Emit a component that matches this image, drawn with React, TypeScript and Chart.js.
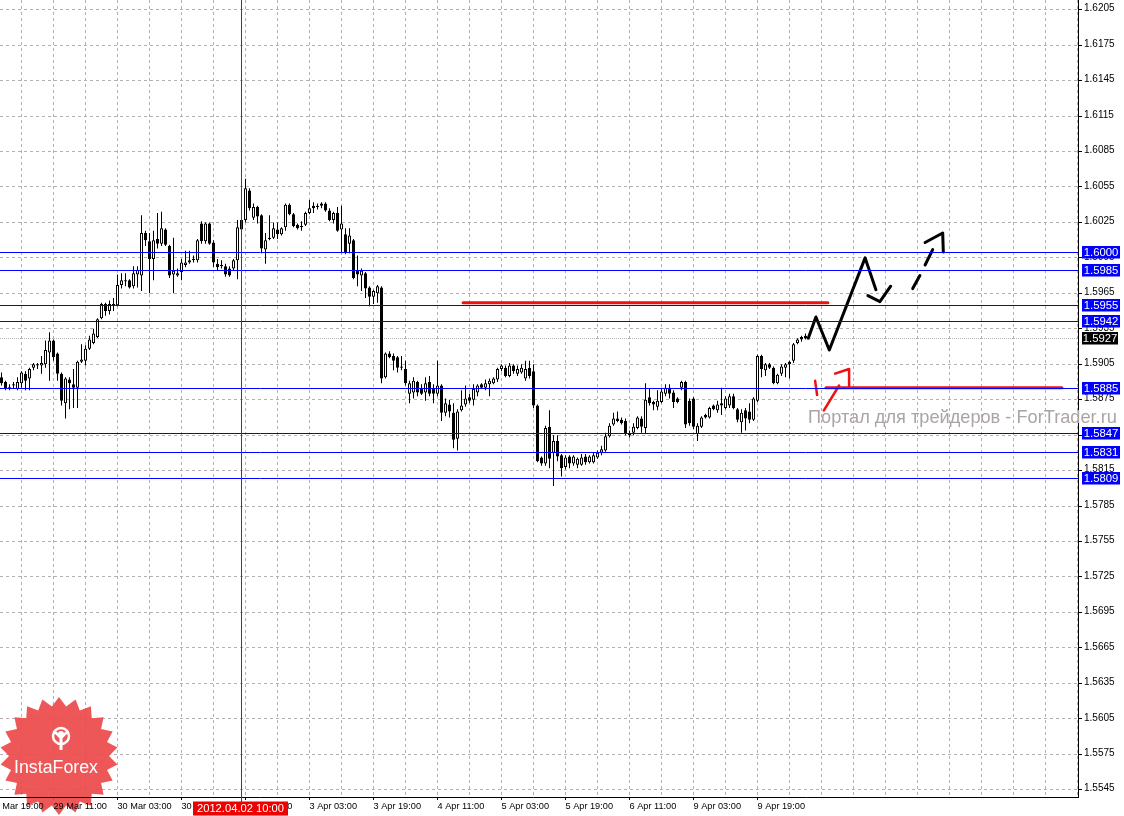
import React, { useEffect, useRef } from "react";
import { Chart, registerables } from "chart.js";

Chart.register(...registerables);

// ---------------- DATA (GBPUSD H1, 28 Mar 2012 22:00 .. 10 Apr 2012) ----------------
const openPrices = [
  1.5894, 1.5890, 1.5885, 1.5887, 1.5884, 1.5889, 1.5897, 1.5893, 1.5902, 1.5904,
  1.5904, 1.5905, 1.5915, 1.5925, 1.5914, 1.5897, 1.5872, 1.5892, 1.5888, 1.5885,
  1.5907, 1.5908, 1.5918, 1.5923, 1.5928, 1.5944, 1.5956, 1.5950, 1.5955, 1.5955,
  1.5972, 1.5975, 1.5976, 1.5971, 1.5981, 1.5980, 1.6016, 1.6009, 1.5994, 1.6011,
  1.6007, 1.6019, 1.6005, 1.5981, 1.5980, 1.5983, 1.5989, 1.5991, 1.5994, 1.5993,
  1.6024, 1.6009, 1.6024, 1.6008, 1.5990, 1.5989, 1.5988, 1.5986, 1.5986, 1.5993,
  1.6027, 1.6027, 1.6052, 1.6029, 1.6038, 1.6031, 1.6002, 1.6012, 1.6012, 1.6019,
  1.6015, 1.6021, 1.6040, 1.6032, 1.6023, 1.6022, 1.6023, 1.6033, 1.6039, 1.6038,
  1.6041, 1.6041, 1.6035, 1.6027, 1.6033, 1.6019, 1.6015, 1.6007, 1.6010, 1.5984,
  1.5980, 1.5982, 1.5970, 1.5962, 1.5965, 1.5970, 1.5894, 1.5914, 1.5912, 1.5911,
  1.5902, 1.5901, 1.5880, 1.5881, 1.5890, 1.5885, 1.5881, 1.5890, 1.5884, 1.5880,
  1.5887, 1.5864, 1.5871, 1.5864, 1.5842, 1.5866, 1.5871, 1.5877, 1.5875, 1.5881,
  1.5888, 1.5885, 1.5888, 1.5889, 1.5892, 1.5901, 1.5902, 1.5895, 1.5904, 1.5897,
  1.5898, 1.5893, 1.5902, 1.5899, 1.5870, 1.5826, 1.5821, 1.5852, 1.5830, 1.5840,
  1.5828, 1.5818, 1.5827, 1.5821, 1.5820, 1.5820, 1.5827, 1.5822, 1.5822, 1.5826,
  1.5830, 1.5832, 1.5844, 1.5854, 1.5859, 1.5858, 1.5857, 1.5846, 1.5847, 1.5851,
  1.5859, 1.5851, 1.5877, 1.5873, 1.5869, 1.5873, 1.5880, 1.5885, 1.5881, 1.5876,
  1.5885, 1.5890, 1.5874, 1.5876, 1.5846, 1.5852, 1.5862, 1.5860, 1.5870, 1.5866,
  1.5872, 1.5868, 1.5870, 1.5878, 1.5867, 1.5856, 1.5866, 1.5865, 1.5858, 1.5874,
  1.5912, 1.5900, 1.5905, 1.5902, 1.5889, 1.5897, 1.5902, 1.5907, 1.5908, 1.5923,
  1.5928, 1.5929,
];
const highPrices = [
  1.5898, 1.5891, 1.5888, 1.5890, 1.5894, 1.5899, 1.5899, 1.5902, 1.5906, 1.5906,
  1.5912, 1.5925, 1.5932, 1.5926, 1.5915, 1.5898, 1.5894, 1.5894, 1.5901, 1.5908,
  1.5922, 1.5921, 1.5929, 1.5935, 1.5944, 1.5957, 1.5957, 1.5959, 1.5961, 1.5981,
  1.5982, 1.5982, 1.5977, 1.5988, 1.5988, 1.6031, 1.6018, 1.6016, 1.6018, 1.6033,
  1.6034, 1.6020, 1.6006, 1.6012, 1.5986, 1.5994, 1.6001, 1.6001, 1.5997, 1.6011,
  1.6026, 1.6025, 1.6025, 1.6010, 1.5994, 1.5993, 1.5990, 1.5988, 1.5994, 1.6027,
  1.6029, 1.6062, 1.6054, 1.6041, 1.6039, 1.6032, 1.6016, 1.6031, 1.6025, 1.6025,
  1.6021, 1.6041, 1.6041, 1.6033, 1.6024, 1.6026, 1.6034, 1.6044, 1.6042, 1.6041,
  1.6042, 1.6042, 1.6037, 1.6034, 1.6038, 1.6039, 1.6020, 1.6020, 1.6011, 1.5997,
  1.5986, 1.5983, 1.5971, 1.5968, 1.5972, 1.5971, 1.5915, 1.5916, 1.5914, 1.5912,
  1.5912, 1.5908, 1.5891, 1.5894, 1.5891, 1.5888, 1.5894, 1.5895, 1.5888, 1.5908,
  1.5888, 1.5876, 1.5875, 1.5872, 1.5867, 1.5883, 1.5887, 1.5880, 1.5888, 1.5888,
  1.5889, 1.5892, 1.5893, 1.5894, 1.5902, 1.5905, 1.5904, 1.5906, 1.5905, 1.5904,
  1.5905, 1.5908, 1.5908, 1.5905, 1.5871, 1.5827, 1.5853, 1.5866, 1.5845, 1.5845,
  1.5829, 1.5828, 1.5828, 1.5828, 1.5826, 1.5829, 1.5829, 1.5828, 1.5830, 1.5832,
  1.5836, 1.5847, 1.5855, 1.5864, 1.5865, 1.5860, 1.5859, 1.5849, 1.5855, 1.5861,
  1.5861, 1.5889, 1.5884, 1.5874, 1.5883, 1.5885, 1.5888, 1.5888, 1.5883, 1.5877,
  1.5891, 1.5891, 1.5876, 1.5877, 1.5855, 1.5861, 1.5863, 1.5869, 1.5871, 1.5874,
  1.5885, 1.5878, 1.5880, 1.5880, 1.5868, 1.5867, 1.5868, 1.5872, 1.5877, 1.5913,
  1.5913, 1.5906, 1.5906, 1.5903, 1.5897, 1.5905, 1.5906, 1.5908, 1.5923, 1.5927,
  1.5929, 1.5931,
];
const lowPrices = [
  1.5887, 1.5883, 1.5883, 1.5884, 1.5883, 1.5885, 1.5883, 1.5883, 1.5900, 1.5901,
  1.5897, 1.5902, 1.5891, 1.5908, 1.5891, 1.5870, 1.5859, 1.5867, 1.5868, 1.5868,
  1.5906, 1.5904, 1.5917, 1.5922, 1.5927, 1.5943, 1.5946, 1.5947, 1.5950, 1.5954,
  1.5969, 1.5971, 1.5969, 1.5969, 1.5970, 1.5967, 1.6005, 1.5965, 1.5976, 1.6003,
  1.6005, 1.6005, 1.5978, 1.5965, 1.5979, 1.5976, 1.5987, 1.5990, 1.5991, 1.5991,
  1.6007, 1.6007, 1.6006, 1.5987, 1.5984, 1.5986, 1.5979, 1.5979, 1.5984, 1.5977,
  1.6016, 1.6025, 1.6035, 1.6027, 1.6024, 1.5999, 1.5990, 1.6010, 1.6011, 1.6011,
  1.6014, 1.6018, 1.6031, 1.6021, 1.6019, 1.6018, 1.6022, 1.6032, 1.6033, 1.6036,
  1.6037, 1.6034, 1.6026, 1.6024, 1.6017, 1.5999, 1.5998, 1.5999, 1.5977, 1.5971,
  1.5967, 1.5961, 1.5954, 1.5956, 1.5957, 1.5889, 1.5893, 1.5910, 1.5900, 1.5898,
  1.5900, 1.5887, 1.5872, 1.5876, 1.5878, 1.5879, 1.5874, 1.5878, 1.5872, 1.5878,
  1.5857, 1.5861, 1.5860, 1.5834, 1.5832, 1.5865, 1.5869, 1.5872, 1.5870, 1.5878,
  1.5884, 1.5883, 1.5878, 1.5888, 1.5890, 1.5899, 1.5894, 1.5894, 1.5897, 1.5895,
  1.5897, 1.5891, 1.5893, 1.5868, 1.5822, 1.5819, 1.5819, 1.5817, 1.5802, 1.5823,
  1.5810, 1.5816, 1.5817, 1.5819, 1.5817, 1.5819, 1.5820, 1.5821, 1.5821, 1.5825,
  1.5828, 1.5831, 1.5843, 1.5853, 1.5856, 1.5854, 1.5845, 1.5843, 1.5845, 1.5850,
  1.5847, 1.5846, 1.5870, 1.5866, 1.5866, 1.5872, 1.5878, 1.5876, 1.5868, 1.5872,
  1.5883, 1.5851, 1.5853, 1.5850, 1.5840, 1.5851, 1.5859, 1.5859, 1.5866, 1.5864,
  1.5862, 1.5867, 1.5868, 1.5867, 1.5856, 1.5847, 1.5849, 1.5855, 1.5857, 1.5873,
  1.5894, 1.5895, 1.5901, 1.5888, 1.5888, 1.5895, 1.5894, 1.5893, 1.5906, 1.5922,
  1.5924, 1.5926,
];
const closePrices = [
  1.5889, 1.5884, 1.5886, 1.5888, 1.5890, 1.5898, 1.5891, 1.5901, 1.5905, 1.5905,
  1.5906, 1.5917, 1.5925, 1.5911, 1.5897, 1.5874, 1.5893, 1.5889, 1.5885, 1.5907,
  1.5909, 1.5918, 1.5926, 1.5931, 1.5943, 1.5956, 1.5950, 1.5956, 1.5956, 1.5972,
  1.5976, 1.5976, 1.5970, 1.5982, 1.5985, 1.6016, 1.6010, 1.5994, 1.6010, 1.6007,
  1.6020, 1.6006, 1.5980, 1.5984, 1.5982, 1.5991, 1.5991, 1.5993, 1.5993, 1.6010,
  1.6009, 1.6024, 1.6007, 1.5991, 1.5987, 1.5988, 1.5981, 1.5980, 1.5993, 1.6021,
  1.6019, 1.6054, 1.6037, 1.6038, 1.6030, 1.6003, 1.6010, 1.6011, 1.6020, 1.6015,
  1.6020, 1.6040, 1.6032, 1.6022, 1.6020, 1.6021, 1.6033, 1.6037, 1.6037, 1.6039,
  1.6039, 1.6035, 1.6027, 1.6033, 1.6018, 1.6024, 1.5999, 1.6014, 1.5978, 1.5981,
  1.5984, 1.5969, 1.5962, 1.5967, 1.5971, 1.5893, 1.5914, 1.5911, 1.5908, 1.5902,
  1.5903, 1.5889, 1.5889, 1.5891, 1.5881, 1.5880, 1.5889, 1.5880, 1.5880, 1.5887,
  1.5864, 1.5872, 1.5865, 1.5841, 1.5865, 1.5870, 1.5876, 1.5874, 1.5884, 1.5887,
  1.5885, 1.5889, 1.5891, 1.5893, 1.5901, 1.5904, 1.5895, 1.5904, 1.5899, 1.5901,
  1.5902, 1.5901, 1.5895, 1.5870, 1.5823, 1.5821, 1.5851, 1.5825, 1.5840, 1.5827,
  1.5817, 1.5826, 1.5821, 1.5827, 1.5825, 1.5826, 1.5822, 1.5827, 1.5828, 1.5830,
  1.5833, 1.5844, 1.5853, 1.5859, 1.5857, 1.5855, 1.5846, 1.5845, 1.5852, 1.5860,
  1.5852, 1.5875, 1.5872, 1.5871, 1.5874, 1.5882, 1.5885, 1.5880, 1.5873, 1.5873,
  1.5890, 1.5854, 1.5855, 1.5852, 1.5853, 1.5860, 1.5860, 1.5868, 1.5867, 1.5871,
  1.5870, 1.5876, 1.5878, 1.5868, 1.5858, 1.5864, 1.5859, 1.5858, 1.5876, 1.5912,
  1.5901, 1.5905, 1.5902, 1.5889, 1.5896, 1.5903, 1.5905, 1.5905, 1.5922, 1.5926,
  1.5926, 1.5927,
];

// time axis: one label every 16 hourly bars, first one at bar -3
const timeLabels = [
  "28 Mar 19:00", "29 Mar 11:00", "30 Mar 03:00", "30 Mar 19:00", "2 Apr 11:00",
  "3 Apr 03:00", "3 Apr 19:00", "4 Apr 11:00", "5 Apr 03:00", "5 Apr 19:00",
  "6 Apr 11:00", "9 Apr 03:00", "9 Apr 19:00",
];
const firstLabelBar = -3;
const barsPerLabel = 16;
const barsPerGrid = 8;

const priceTicks = [
  1.6205, 1.6175, 1.6145, 1.6115, 1.6085, 1.6055, 1.6025, 1.5995, 1.5965, 1.5935,
  1.5905, 1.5875, 1.5845, 1.5815, 1.5785, 1.5755, 1.5725, 1.5695, 1.5665, 1.5635,
  1.5605, 1.5575, 1.5545,
];
const priceMax = 1.62132;
const priceMin = 1.553881;

const levelLines = [1.6, 1.5985, 1.5955, 1.5942, 1.5885, 1.5847, 1.5831, 1.5809];
const bidPrice = 1.5927;
const markerBar = 60;
const markerLabel = "2012.04.02 10:00";

const redLevelA = [{ x: 115.4, y: 1.5957 }, { x: 206.6, y: 1.5957 }];
const redLevelB = [{ x: 206.1, y: 1.5885 }, { x: 265.1, y: 1.5885 }];
const forecastMain = [
  { x: 201.7, y: 1.5927 }, { x: 203.6, y: 1.5945 }, { x: 206.95, y: 1.5917 },
  { x: 215.9, y: 1.5995 }, { x: 218.6, y: 1.5968 },
];
const forecastPullback = [{ x: 216.6, y: 1.5963 }, { x: 219.6, y: 1.5958 }, { x: 222.3, y: 1.5971 }];
const forecastDash1 = [{ x: 227.8, y: 1.5969 }, { x: 229.6, y: 1.598 }];
const forecastDash2 = [{ x: 230.9, y: 1.5989 }, { x: 232.8, y: 1.6002 }];
const forecastArrow = [{ x: 230.9, y: 1.6008 }, { x: 235.3, y: 1.6016 }, { x: 235.45, y: 1.6 }];
const redStroke1 = [{ x: 203.4, y: 1.5891 }, { x: 203.9, y: 1.5879 }];
const redStroke2 = [{ x: 205.6, y: 1.5866 }, { x: 209.4, y: 1.5887 }];
const redStroke3 = [{ x: 208.4, y: 1.5897 }, { x: 211.9, y: 1.5901 }, { x: 211.9, y: 1.5886 }];

const watermarkText = "Портал для трейдеров - ForTrader.ru";
const logoText = "InstaForex";

// ---------------- STYLE ----------------
const FONT = '"Liberation Sans", Arial, sans-serif';
const SHIFT = 12; // canvas starts 12px left of the page edge
const GRID = "#b6aeb6";
const BLUE = "#0000ff";
const RED = "#ee1111";

function isLabelBar(v: number) {
  const k = (v - firstLabelBar) / barsPerLabel;
  return Number.isInteger(k) && k >= 0 && k < timeLabels.length;
}

function fitSize(ctx: any, text: string, width: number, weight = "") {
  ctx.font = `${weight} 20px ${FONT}`;
  return (20 * width) / ctx.measureText(text).width;
}

const overlay = {
  id: "overlay",
  beforeDatasetsDraw(chart: any) {
    const { ctx, chartArea: a, scales } = chart;
    const y = scales.y;
    ctx.save();
    // bid line
    const by = Math.round(y.getPixelForValue(bidPrice)) + 0.5;
    ctx.strokeStyle = "#b4b4b4";
    ctx.lineWidth = 1;
    ctx.setLineDash([1, 1]);
    ctx.beginPath();
    ctx.moveTo(a.left, by);
    ctx.lineTo(a.right, by);
    ctx.stroke();
    ctx.setLineDash([]);

    // watermark
    const ws = fitSize(ctx, watermarkText, 309);
    ctx.font = `${ws}px ${FONT}`;
    ctx.fillStyle = "rgb(172,164,164)";
    ctx.textAlign = "left";
    ctx.textBaseline = "middle";
    ctx.fillText(watermarkText, SHIFT + 808, 418);

    // logo badge
    const cx = SHIFT + 59;
    const cy = 756;
    const n = 22;
    ctx.beginPath();
    for (let k = 0; k < 2 * n; k++) {
      const r = k % 2 === 0 ? 59 : 50;
      const ang = (k * Math.PI) / n - Math.PI / 2;
      const px = cx + r * Math.cos(ang);
      const py = cy + r * Math.sin(ang);
      if (k === 0) ctx.moveTo(px, py);
      else ctx.lineTo(px, py);
    }
    ctx.closePath();
    ctx.fillStyle = "rgba(236,74,74,0.93)";
    ctx.fill();
    // icon
    ctx.fillStyle = "#fff";
    ctx.strokeStyle = "#fff";
    ctx.lineWidth = 2.5;
    ctx.beginPath();
    ctx.arc(cx + 2, cy - 20, 8, 0, Math.PI * 2);
    ctx.stroke();
    ctx.beginPath();
    ctx.arc(cx + 2, cy - 22, 3, 0, Math.PI * 2);
    ctx.fill();
    ctx.fillRect(cx + 0.5, cy - 18, 3, 12);
    ctx.beginPath();
    ctx.moveTo(cx - 5, cy - 25);
    ctx.lineTo(cx + 2, cy - 18);
    ctx.lineTo(cx + 9, cy - 25);
    ctx.stroke();
    const ls = fitSize(ctx, logoText, 84);
    ctx.font = `${ls}px ${FONT}`;
    ctx.textAlign = "center";
    ctx.fillText(logoText, cx - 3, cy + 12);
    ctx.restore();
  },
  afterDatasetsDraw(chart: any) {
    const { ctx, chartArea: a, scales } = chart;
    const y = scales.y;
    ctx.save();
    ctx.strokeStyle = BLUE;
    ctx.lineWidth = 1;
    for (const v of levelLines) {
      const py = Math.round(y.getPixelForValue(v)) + 0.5;
      ctx.beginPath();
      ctx.moveTo(a.left, py);
      ctx.lineTo(a.right, py);
      ctx.stroke();
    }
    ctx.restore();
  },
  afterDraw(chart: any) {
    const { ctx, chartArea: a, scales } = chart;
    const y = scales.y;
    const x = scales.x;
    ctx.save();
    // marker line
    const mx = Math.round(x.getPixelForValue(markerBar) - 0.5) + 0.5;
    ctx.strokeStyle = "#e00000";
    ctx.lineWidth = 1;
    ctx.beginPath();
    ctx.moveTo(mx, a.top);
    ctx.lineTo(mx, 802);
    ctx.stroke();
    // marker date box
    ctx.fillStyle = "#ee0000";
    ctx.fillRect(mx - 48.5, 801.5, 95, 14);
    ctx.fillStyle = "#fff";
    ctx.font = `11.2px ${FONT}`;
    ctx.textAlign = "center";
    ctx.textBaseline = "middle";
    ctx.fillText(markerLabel, mx - 1, 809);

    // price boxes on the axis
    ctx.font = `11.3px ${FONT}`;
    const bx = a.right + 4;
    const drawBox = (v: number, bg: string, w: number) => {
      const py = Math.round(y.getPixelForValue(v));
      ctx.fillStyle = bg;
      ctx.fillRect(bx, py - 6, w, 12.5);
      ctx.fillStyle = "#fff";
      ctx.fillText(v.toFixed(4), bx + w / 2, py + 0.5);
    };
    for (const v of levelLines) drawBox(v, BLUE, 38);
    drawBox(bidPrice, "#000", 36);
    ctx.restore();
  },
};

export default function App() {
  const ref = useRef<HTMLCanvasElement>(null);
  useEffect(() => {
    const canvas = ref.current!;
    const bars = openPrices.map((_, i) => i);
    const bodies = bars.map((i) => ({ x: i, y: [openPrices[i], closePrices[i]] }));
    const wicks = bars.map((i) => ({ x: i, y: [lowPrices[i], highPrices[i]] }));
    const bodyFill = bars.map((i) => (closePrices[i] >= openPrices[i] ? "#ffffff" : "#000000"));

    const lineDs = (data: any[], color: string, width: number) => ({
      type: "line",
      data,
      borderColor: color,
      borderWidth: width,
      pointRadius: 0,
      tension: 0,
      fill: false,
      order: 0,
      borderJoinStyle: "round",
      borderCapStyle: "round",
    });

    const gridTicks: number[] = [];
    for (let v = firstLabelBar; v <= 269; v += barsPerGrid) gridTicks.push(v);

    const chart = new Chart(canvas, {
      type: "bar",
      data: {
        datasets: [
          lineDs(forecastMain, "#000", 3),
          lineDs(forecastPullback, "#000", 3),
          lineDs(forecastDash1, "#000", 3),
          lineDs(forecastDash2, "#000", 3),
          lineDs(forecastArrow, "#000", 3),
          lineDs(redLevelA, RED, 3),
          lineDs(redLevelB, RED, 3),
          lineDs(redStroke1, RED, 2.5),
          lineDs(redStroke2, RED, 2.5),
          lineDs(redStroke3, RED, 2.5),
          {
            type: "bar",
            data: bodies,
            backgroundColor: bodyFill,
            borderColor: "#000",
            borderWidth: 1,
            borderSkipped: false,
            barThickness: 3,
            grouped: false,
            minBarLength: 1,
            inflateAmount: 0,
            order: 5,
          },
          {
            type: "bar",
            data: wicks,
            backgroundColor: "#000",
            borderWidth: 0,
            barThickness: 1,
            grouped: false,
            minBarLength: 1,
            inflateAmount: 0,
            order: 6,
          },
        ] as any,
      },
      options: {
        responsive: false,
        animation: false,
        devicePixelRatio: 1,
        events: [],
        layout: { padding: 0 },
        plugins: { legend: { display: false }, tooltip: { enabled: false }, title: { display: false } },
        scales: {
          x: {
            type: "linear",
            offset: false,
            min: -3.375,
            max: 269.125,
            afterBuildTicks: (s: any) => {
              s.ticks = gridTicks.map((v) => ({ value: v }));
            },
            afterFit: (s: any) => {
              s.height = 19;
              s.paddingLeft = 0;
              s.paddingRight = 0;
              s.paddingTop = 0;
              s.paddingBottom = 0;
            },
            grid: {
              offset: false,
              color: GRID,
              tickLength: 3,
              tickColor: (c: any) => (c.tick && isLabelBar(c.tick.value) ? "#000" : "rgba(0,0,0,0)"),
            },
            border: { color: "#000", dash: [3, 3], z: 1 },
            ticks: {
              autoSkip: false,
              maxRotation: 0,
              minRotation: 0,
              align: "start",
              padding: 1,
              color: "#000",
              z: 1,
              font: { family: FONT, size: 9.2 },
              callback: (v: any) => {
                const k = (Number(v) - firstLabelBar) / barsPerLabel;
                return isLabelBar(Number(v)) ? timeLabels[k] : "";
              },
            },
          },
          y: {
            type: "linear",
            position: "right",
            min: priceMin,
            max: priceMax,
            beginAtZero: false,
            afterBuildTicks: (s: any) => {
              s.ticks = priceTicks.map((v) => ({ value: v }));
            },
            afterFit: (s: any) => {
              s.width = 46;
              s.paddingLeft = 0;
              s.paddingRight = 0;
              s.paddingTop = 0;
              s.paddingBottom = 0;
            },
            grid: { color: GRID, tickColor: "#000", tickLength: 4 },
            border: { color: "#000", dash: [3, 3] },
            ticks: {
              color: "#000",
              padding: 2,
              labelOffset: -1,
              font: { family: FONT, size: 10 },
              callback: (v: any) => Number(v).toFixed(4),
            },
          },
        },
      } as any,
      plugins: [overlay as any],
    });
    return () => chart.destroy();
  }, []);

  return (
    <div
      style={{
        position: "absolute",
        left: 0,
        top: 0,
        width: 1124,
        height: 816,
        overflow: "hidden",
        background: "#fff",
      }}
    >
      <canvas
        ref={ref}
        width={1136}
        height={816}
        style={{ position: "absolute", left: -SHIFT, top: 0, width: 1136, height: 816 }}
      />
    </div>
  );
}
